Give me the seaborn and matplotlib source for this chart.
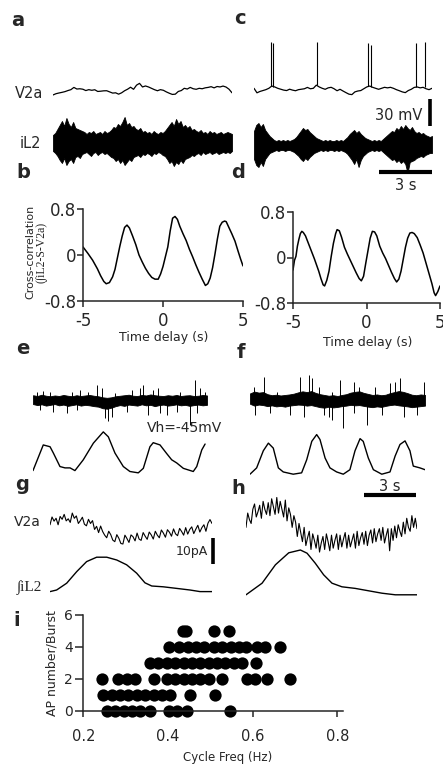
"""
Multi-panel figure: V2a / iL2 recordings, cross-correlations, currents, AP count.
"""
import numpy as np
import matplotlib
matplotlib.use('Agg')
import matplotlib.pyplot as plt
import seaborn as sns

sns.set_style('ticks')
plt.rcParams['font.family'] = ['DejaVu Sans']
plt.rcParams['axes.unicode_minus'] = False

INK = 'black'
SERIF = ['Liberation Serif', 'DejaVu Serif']

# ---------------- data ----------------
# a: V2a membrane potential (mV), 10 s
a_v2a = [-69.4, -68.0, -67.2, -66.5, -65.7, -64.5, -63.5, -61.0, -62.8, -62.5,
         -63.0, -64.5, -63.5, -64.2, -63.6, -65.5, -65.2, -64.8, -64.7, -66.0,
         -67.3, -67.0, -68.5, -67.0, -64.7, -63.0, -60.8, -63.1, -58.5, -56.5,
         -60.5, -59.4, -60.5, -62.0, -63.5, -64.7, -63.5, -64.2, -66.0, -67.5,
         -68.8, -68.5, -65.5, -64.5, -62.0, -62.8, -61.0, -62.5, -63.1, -62.0,
         -62.5, -61.5, -61.0, -60.2, -61.5, -60.0, -60.5, -59.5, -60.6, -63.0,
         -67.0]
# c: V2a membrane potential (mV) with spikes
c_v2a = [-62.0, -67.0, -65.5, -64.5, -63.5, -62.0, -59.5, -60.5, -62.0, -63.0,
         -64.0, -64.5, -63.0, -64.0, -64.7, -63.5, -63.0, -62.5, -61.0, -62.5,
         -62.0, -58.5, -60.5, -62.0, -63.1, -61.5, -60.9, -62.5, -64.7, -63.1,
         -65.0, -66.8, -68.5, -69.0, -66.0, -65.0, -64.5, -62.5, -60.5, -59.5,
         -60.9, -62.0, -63.1, -62.0, -60.9, -61.5, -60.9, -62.0, -63.5, -64.7,
         -66.0, -66.8, -64.5, -63.1, -61.0, -60.5, -61.5, -60.9, -62.5, -63.5,
         -62.0]
c_spike_t = [0.96, 1.07, 3.54, 6.40, 6.57, 9.10, 9.60]
c_spike_base = [-59.8, -60.2, -58.5, -59.5, -60.0, -60.8, -60.9]
c_spike_peak = [-10.2, -12.0, -10.2, -12.0, -13.9, -12.0, -10.2]

# a / c: iL2 ventral root envelope (uV), 10 s
a_il2_up = [8, 10, 14, 18, 22, 17, 25, 19, 16, 21, 15, 14, 13, 12, 11, 9, 11, 10,
            12, 9, 10, 11, 9, 12, 10, 11, 13, 16, 15, 19, 17, 21, 26, 18, 20, 16,
            17, 14, 13, 15, 11, 12, 10, 11, 9, 12, 10, 9, 11, 10, 12, 15, 18, 21,
            17, 24, 19, 22, 16, 18, 15, 17, 13, 14, 12, 11, 13, 10, 11, 9, 12, 10,
            11, 9, 10, 11, 9, 10, 11, 10, 9]
a_il2_lo = [-8, -10, -13, -17, -20, -15, -22, -18, -16, -20, -14, -13, -15, -11,
            -10, -9, -11, -13, -10, -9, -12, -10, -9, -11, -10, -12, -14, -15,
            -18, -16, -20, -17, -22, -19, -16, -18, -14, -13, -12, -14, -11, -12,
            -10, -11, -13, -10, -11, -9, -10, -12, -13, -16, -20, -18, -23, -19,
            -21, -17, -20, -16, -15, -14, -12, -13, -11, -10, -12, -9, -11, -10,
            -9, -11, -10, -9, -11, -10, -9, -10, -9, -10, -8]
c_il2_up = [14, 20, 22, 18, 21, 15, 12, 9, 7, 5, 4, 5, 4, 5, 4, 5, 4, 5, 6, 8,
            11, 14, 17, 15, 16, 13, 11, 9, 7, 6, 5, 4, 5, 4, 5, 4, 4, 5, 4, 5, 4,
            6, 8, 11, 13, 15, 12, 14, 11, 9, 7, 6, 5, 4, 5, 4, 5, 4, 6, 8, 10, 12,
            14, 13, 17, 15, 19, 16, 20, 17, 15, 18, 14, 12, 13, 11, 12, 10, 9, 8, 9]
c_il2_lo = [-14, -20, -22, -17, -21, -14, -11, -8, -7, -6, -5, -6, -5, -5, -6,
            -5, -5, -6, -7, -9, -11, -14, -16, -13, -15, -12, -10, -8, -7, -6,
            -5, -6, -5, -6, -5, -5, -6, -5, -6, -5, -6, -7, -9, -12, -15, -19,
            -14, -22, -15, -11, -9, -7, -6, -5, -6, -5, -6, -5, -7, -9, -11, -13,
            -15, -14, -17, -15, -18, -16, -19, -28, -17, -16, -15, -13, -12, -11,
            -12, -10, -9, -8, -8]

# b / d: cross-correlation vs time delay (s)
b_lag = [-5.0, -4.7, -4.4, -4.1, -3.9, -3.7, -3.55, -3.35, -3.15, -3.0, -2.85,
         -2.7, -2.55, -2.4, -2.25, -2.1, -1.9, -1.7, -1.5, -1.3, -1.1, -0.9,
         -0.7, -0.5, -0.3, -0.15, 0.0, 0.15, 0.3, 0.45, 0.6, 0.75, 0.9, 1.05,
         1.25, 1.45, 1.65, 1.85, 2.05, 2.25, 2.45, 2.65, 2.8, 2.95, 3.1, 3.25,
         3.4, 3.55, 3.7, 3.85, 3.95, 4.1, 4.3, 4.5, 4.7, 4.85, 5.0]
b_corr = [0.14, 0.03, -0.09, -0.24, -0.36, -0.46, -0.50, -0.48, -0.38, -0.25,
          -0.05, 0.15, 0.33, 0.48, 0.52, 0.47, 0.33, 0.18, 0.00, -0.12, -0.23,
          -0.32, -0.39, -0.42, -0.42, -0.33, -0.20, -0.03, 0.14, 0.42, 0.64,
          0.67, 0.62, 0.50, 0.37, 0.25, 0.10, -0.03, -0.17, -0.30, -0.42, -0.53,
          -0.50, -0.40, -0.22, 0.02, 0.28, 0.50, 0.57, 0.59, 0.58, 0.49, 0.37,
          0.24, 0.06, -0.07, -0.19]
d_lag = [-5.0, -4.9, -4.8, -4.7, -4.6, -4.5, -4.4, -4.3, -4.15, -4.0, -3.85,
         -3.7, -3.55, -3.4, -3.25, -3.1, -2.95, -2.85, -2.7, -2.55, -2.4, -2.25,
         -2.1, -2.0, -1.85, -1.7, -1.5, -1.3, -1.1, -0.9, -0.7, -0.5, -0.35,
         -0.2, -0.05, 0.1, 0.25, 0.4, 0.55, 0.7, 0.9, 1.1, 1.3, 1.5, 1.7, 1.9,
         2.05, 2.2, 2.35, 2.5, 2.65, 2.8, 2.95, 3.1, 3.25, 3.45, 3.65, 3.85,
         4.05, 4.25, 4.45, 4.6, 4.7, 4.85, 5.0]
d_corr = [-0.22, -0.05, 0.02, 0.20, 0.32, 0.42, 0.46, 0.44, 0.38, 0.28, 0.18,
          0.08, -0.02, -0.13, -0.24, -0.37, -0.48, -0.50, -0.40, -0.24, 0.02,
          0.25, 0.42, 0.49, 0.47, 0.36, 0.18, 0.06, -0.05, -0.16, -0.27, -0.37,
          -0.41, -0.33, -0.10, 0.12, 0.34, 0.46, 0.45, 0.38, 0.20, 0.08, -0.02,
          -0.14, -0.26, -0.37, -0.43, -0.38, -0.24, -0.03, 0.18, 0.34, 0.43,
          0.44, 0.42, 0.35, 0.22, 0.08, -0.10, -0.28, -0.46, -0.62, -0.67,
          -0.60, -0.50]

# e / f: V2a current (pA) noise band + synaptic events, 10 s
e_band_up = [1.8, 1.5, 2.0, 1.6, 1.4, 1.7, 1.5, 1.9, 1.6, 1.4, 1.8, 1.5, 1.7,
             1.9, 1.6, 1.4, 1.0, 0.8, 1.0, 1.4, 1.6, 1.8, 2.0, 1.6, 1.5, 1.9,
             1.7, 2.1, 1.8, 1.6, 1.5, 1.8, 1.6, 1.9, 1.5, 1.7, 1.8, 1.5, 1.6,
             1.9, 1.7]
e_band_lo = [-1.6, -2.0, -1.7, -2.2, -1.9, -1.6, -2.1, -1.8, -2.3, -2.0, -1.7,
             -2.2, -1.9, -2.1, -2.4, -2.6, -3.2, -3.4, -3.0, -2.4, -2.0, -2.3,
             -1.8, -2.0, -2.2, -1.7, -2.1, -1.9, -2.4, -2.0, -1.8, -2.2, -2.0,
             -1.7, -2.1, -1.9, -2.3, -2.0, -1.8, -2.1, -1.9]
e_event_t = [0.21, 0.6, 0.98, 2.22, 2.7, 3.18, 3.66, 3.95, 4.71, 5.67, 6.15,
             6.34, 6.91, 7.2, 8.45, 9.31, 9.6, 9.89, 0.4, 1.17, 1.94, 2.51,
             4.14, 4.33, 4.52, 5.39, 6.63, 7.3, 7.68, 8.26, 9.02, 9.4]
e_event_amp = [3.0, 3.5, 3.0, 3.2, 3.8, 3.2, 5.8, 4.5, 2.8, 3.8, 4.5, 5.8, 3.8,
               4.5, 3.2, 7.7, 4.5, 3.0, -3.8, -4.5, -5.1, -3.8, -7.0, -8.3,
               -6.4, -4.5, -5.8, -5.1, -5.8, -4.5, -9.6, -5.1]
f_band_up = [2.5, 3.2, 2.8, 3.0, 2.2, 1.8, 2.0, 1.7, 1.9, 2.1, 2.4, 2.9, 3.3,
             3.0, 3.4, 2.7, 2.2, 1.9, 1.6, 1.8, 1.5, 1.9, 2.2, 2.8, 3.1, 3.3,
             2.7, 2.3, 1.9, 2.1, 1.8, 2.0, 2.6, 3.0, 3.4, 3.1, 2.6, 2.0, 1.8,
             2.1, 1.9]
f_band_lo = [-1.5, -2.2, -1.8, -2.0, -2.4, -2.1, -2.5, -2.3, -2.6, -2.2, -2.0,
             -1.8, -1.9, -2.2, -2.0, -2.4, -2.8, -3.0, -2.6, -2.9, -2.7, -2.4,
             -2.2, -1.9, -2.1, -2.0, -2.3, -2.6, -2.8, -2.5, -2.7, -2.3, -2.0,
             -1.8, -2.1, -2.3, -2.5, -2.8, -2.6, -2.4, -2.2]
f_event_t = [0.21, 0.78, 1.54, 2.87, 3.39, 3.54, 3.92, 4.69, 5.16, 5.93, 6.21,
             7.16, 8.02, 8.3, 8.59, 9.93, 0.3, 1.16, 2.3, 3.07, 4.21, 4.5, 4.69,
             5.3, 5.93, 6.69, 7.54, 8.78, 9.54]
f_event_amp = [5.1, 9.0, 3.0, 9.0, 9.6, 8.3, 5.1, 3.2, 7.7, 7.0, 5.1, 5.1, 6.4,
               7.0, 8.3, 7.0, -5.8, -5.1, -5.8, -6.4, -5.8, -6.4, -7.7, -10.9,
               -5.1, -9.6, -5.8, -6.4, -5.8]

# e / f: integrated iL2 (a.u.)
e_int_t = [0.0, 0.59, 0.98, 1.17, 1.55, 1.84, 2.13, 2.41, 2.89, 3.47, 4.04,
           4.33, 4.71, 5.19, 5.57, 6.05, 6.34, 6.72, 6.91, 7.3, 7.68, 7.97,
           8.26, 8.64, 9.21, 9.41, 9.7, 9.89]
e_int = [0.12, 0.69, 0.65, 0.51, 0.21, 0.18, 0.18, 0.12, 0.36, 0.73, 0.98,
         0.87, 0.51, 0.21, 0.10, 0.07, 0.17, 0.65, 0.74, 0.69, 0.50, 0.36,
         0.29, 0.17, 0.10, 0.21, 0.58, 0.71]
f_int_t = [0.0, 0.38, 0.76, 1.05, 1.33, 1.62, 1.9, 2.47, 2.95, 3.24, 3.53,
           3.81, 4.0, 4.29, 4.57, 4.95, 5.33, 5.71, 6.0, 6.29, 6.47, 6.76,
           7.05, 7.53, 8.0, 8.29, 8.57, 8.86, 9.14, 9.33, 9.71, 10.0]
f_int = [0.04, 0.18, 0.56, 0.73, 0.62, 0.18, 0.09, 0.04, 0.07, 0.36, 0.77,
         0.92, 0.81, 0.40, 0.18, 0.09, 0.04, 0.14, 0.56, 0.83, 0.77, 0.40,
         0.14, 0.04, 0.09, 0.44, 0.70, 0.78, 0.56, 0.22, 0.18, 0.14]

# g / h: cycle-averaged V2a current (pA) and integrated iL2 (a.u.) vs phase
g_v2a = [2.0, 5.0, 3.4, 4.5, 2.0, 5.2, 4.1, 6.0, 3.5, 4.3,
         2.9, 6.5, 4.5, 5.4, 2.5, 3.6, 4.9, 2.2, 1.6, 4.1,
         2.5, 3.6, 0.2, 1.4, -1.0, 1.5, -0.6, -2.0, -3.0, -0.5,
         -1.8, -3.9, -4.5, -1.8, -3.2, -5.2, -5.4, -2.0, -3.3, -4.8,
         -1.9, -2.6, -4.2, -1.2, -3.5, -4.0, -1.0, -2.4, -3.6, -0.8,
         -1.9, -3.5, -0.5, -2.0, -3.0, 0.0, -1.2, -2.8, 0.1, -0.9,
         -2.4, 0.4, -1.5, -2.2, 0.6, -0.6, -2.0, 0.9, -1.6, 0.2,
         1.2, -1.4, 0.3, 1.8, -0.8, 0.9, 2.0, -0.5, 2.6, 4.0,
         2.5]
h_v2a = [1.0, 6.5, 4.0, 2.5, 8.0, 10.0, 5.0, 7.0, 9.5, 4.5,
         11.0, 8.0, 6.0, 10.5, 5.5, 12.0, 9.0, 6.0, 12.5, 6.5,
         11.0, 8.0, 5.0, 11.5, 3.5, 8.5, 6.0, 1.0, 5.5, 3.0,
         -2.5, 2.5, -1.0, -4.5, 1.0, -6.0, -3.0, -0.5, -7.5, -1.5,
         -4.0, -7.0, -2.0, -8.5, -5.0, -2.5, -7.5, -1.5, -4.5, -8.0,
         -2.0, -7.0, -4.0, -1.5, -7.5, -2.0, -6.5, -3.5, -1.0, -7.0,
         -2.0, -6.5, -4.0, -1.5, -7.0, -0.5, -6.0, -3.0, -1.0, -5.5,
         -0.5, -6.0, -2.0, 0.0, -5.0, 0.5, -4.5, -1.5, 0.5, -4.0,
         1.0, -5.0, -2.0, 0.5, -8.0, 0.5, -4.0, 1.5, -3.0, 2.0,
         -0.5, -2.5, 3.0, -1.5, 4.5, 1.0, -0.5, 5.5, 1.0, 4.5,
         0.5]
g_int_phase = [0.0, 0.041, 0.103, 0.165, 0.226, 0.288, 0.35, 0.412, 0.473,
               0.535, 0.586, 0.628, 0.699, 0.782, 0.864, 0.926, 1.0]
g_int = [0.11, 0.15, 0.32, 0.61, 0.86, 0.97, 0.97, 0.90, 0.78, 0.57, 0.33,
         0.25, 0.23, 0.19, 0.15, 0.11, 0.11]
h_int_phase = [0.0, 0.094, 0.172, 0.25, 0.318, 0.357, 0.405, 0.454, 0.503,
               0.561, 0.639, 0.717, 0.795, 0.873, 1.0]
h_int = [0.03, 0.32, 0.78, 1.08, 1.15, 1.07, 0.82, 0.53, 0.32, 0.23, 0.19,
         0.13, 0.07, 0.03, 0.03]

# i: AP number per burst vs cycle frequency
cycle_freq = [0.435, 0.443, 0.508, 0.545,
              0.402, 0.426, 0.446, 0.465, 0.485, 0.508, 0.528, 0.548, 0.567,
              0.583, 0.61, 0.63, 0.664,
              0.358, 0.377, 0.397, 0.417, 0.437, 0.457, 0.476, 0.496, 0.515,
              0.535, 0.555, 0.575, 0.607,
              0.243, 0.283, 0.302, 0.322, 0.366, 0.397, 0.417, 0.437, 0.457,
              0.476, 0.496, 0.527, 0.586, 0.606, 0.634, 0.687,
              0.247, 0.267, 0.287, 0.306, 0.326, 0.346, 0.366, 0.385, 0.405,
              0.452, 0.511,
              0.255, 0.275, 0.295, 0.314, 0.334, 0.358, 0.402, 0.421, 0.445,
              0.547]
ap_number = [5] * 4 + [4] * 13 + [3] * 13 + [2] * 16 + [1] * 11 + [0] * 10

# ---------------- layout helpers (pixel boxes) ----------------
W, H = 443, 767
fig = plt.figure(figsize=(W / 100, H / 100), dpi=100)


def box(x0, y0, x1, y1):
    return [x0 / W, 1 - y1 / H, (x1 - x0) / W, (y1 - y0) / H]


def text(x, y, s, **kw):
    kw.setdefault('ha', 'center')
    kw.setdefault('va', 'center')
    fig.text(x / W, 1 - y / H, s, **kw)


def trace_ax(x0, y0, x1, y1, xlim, ylim):
    ax = fig.add_axes(box(x0, y0, x1, y1))
    ax.set_xlim(*xlim)
    ax.set_ylim(*ylim)
    ax.axis('off')
    return ax


def line(ax, x, y, lw=0.9):
    sns.lineplot(x=np.asarray(x), y=np.asarray(y), ax=ax, color=INK,
                 linewidth=lw, estimator=None, sort=False, legend=False)


def t_axis(values, dur=10.0):
    return np.linspace(0, dur, len(values))


# ---------------- a / c ----------------
for x0, x1, v2a in [(53, 232, a_v2a), (254, 432, c_v2a)]:
    ax = trace_ax(x0, 35, x1, 130, (0, 10), (-108.3, -2.8))
    line(ax, t_axis(v2a), v2a, lw=0.9)
    if v2a is c_v2a:
        ax.vlines(c_spike_t, c_spike_base, c_spike_peak, color=INK, lw=0.8)
        ax.vlines(9.89, -103.9, -73.9, color=INK, lw=2.6, clip_on=False)
        ax.text(9.44, -92.2, '30 mV', ha='right', va='center', fontsize=10.5)

ax = trace_ax(53, 110, 232, 175, (0, 10), (-32, 33))
ax.fill_between(t_axis(a_il2_up), a_il2_lo, a_il2_up, color=INK, lw=0.6)
ax = trace_ax(254, 110, 432, 180, (0, 10), (-35, 35))
ax.fill_between(t_axis(c_il2_up), c_il2_lo, c_il2_up, color=INK, lw=0.6)
ax.hlines(-27, 7.0, 10.0, color=INK, lw=3.0, clip_on=False)
ax.text(8.5, -40, '3 s', ha='center', va='center', fontsize=10.5)

text(29, 94, 'V2a', fontsize=10.5)
text(30, 144, 'iL2', fontsize=10.5)

# ---------------- b / d ----------------
for (x0, y0, x1, y1), lag, corr, xlab_y in [((83, 209, 243, 301), b_lag, b_corr, 338),
                                           ((293, 212, 440, 303), d_lag, d_corr, 342)]:
    ax = fig.add_axes(box(x0, y0, x1, y1))
    line(ax, lag, corr, lw=1.1)
    ax.set_xlim(-5, 5)
    ax.set_ylim(-0.8, 0.8)
    ax.set_xticks([-5, 0, 5])
    ax.set_yticks([-0.8, 0, 0.8])
    ax.set_yticklabels(['-0.8', '0', '0.8'])
    ax.set_xlabel('')
    ax.set_ylabel('')
    sns.despine(ax=ax)
    for sp in ax.spines.values():
        sp.set_linewidth(1.1)
    ax.tick_params(axis='both', labelsize=12, length=4, width=1.1)
    ax.tick_params(axis='x', pad=4)
    ax.tick_params(axis='y', pad=1)
    text((x0 + x1) / 2 + 1, xlab_y, 'Time delay (s)', fontsize=9)

text(30, 252, 'Cross-correlation', fontsize=8, rotation=90)
text(41, 252, '(\u222biL2-S-V2a)', fontsize=8.5, rotation=90, family=SERIF)

# ---------------- e / f ----------------
for x0, x1, up, lo, ev_t, ev_a, it, iv in [
        (33, 207, e_band_up, e_band_lo, e_event_t, e_event_amp, e_int_t, e_int),
        (250, 425, f_band_up, f_band_lo, f_event_t, f_event_amp, f_int_t, f_int)]:
    ax = trace_ax(x0, 370, x1, 435, (0, 10), (-13.5, 11.5))
    ax.fill_between(t_axis(up), lo, up, color=INK, lw=0.6)
    ax.vlines(ev_t, 0, ev_a, color=INK, lw=0.7)
    if x0 == 33:
        ax.text(10.86, -10.8, 'Vh=-45mV', ha='right', va='center', fontsize=10)
    ax = trace_ax(x0, 425, x1, 480, (0, 10), (-0.089, 1.133))
    line(ax, it, iv, lw=1.0)
    if x0 == 250:
        ax.hlines(-0.42, 6.5, 9.5, color=INK, lw=3.0, clip_on=False)
        ax.text(8.0, -0.24, '3 s', ha='center', va='center', fontsize=10.5)

# ---------------- g / h ----------------
for x0, x1, v2a, ph, iv in [(50, 212, g_v2a, g_int_phase, g_int),
                            (246, 417, h_v2a, h_int_phase, h_int)]:
    ax = trace_ax(x0, 485, x1, 570, (0, 1), (-15.4, 17.3))
    line(ax, t_axis(v2a, 1.0), v2a, lw=0.8)
    if x0 == 50:
        ax.vlines(1.006, -13.1, -3.1, color=INK, lw=2.6, clip_on=False)
        ax.text(0.975, -8.1, '10pA', ha='right', va='center', fontsize=9)
    ax = trace_ax(x0, 540, x1, 600, (0, 1), (-0.1, 1.4))
    line(ax, ph, iv, lw=1.0)

text(27, 522, 'V2a', fontsize=10)
text(29, 588, '\u222biL2', fontsize=11, family=SERIF)

# ---------------- i ----------------
ax = fig.add_axes(box(83.3, 615, 343, 710.7))
sns.scatterplot(x=cycle_freq, y=ap_number, ax=ax, color=INK, s=78,
                linewidth=0, clip_on=False, legend=False)
ax.set_xlim(0.2, 0.813)
ax.set_ylim(0, 6)
ax.set_xticks([0.2, 0.4, 0.6, 0.8])
ax.set_yticks([0, 2, 4, 6])
ax.set_xlabel('')
ax.set_ylabel('')
sns.despine(ax=ax)
for sp in ax.spines.values():
    sp.set_linewidth(1.1)
ax.tick_params(axis='x', labelsize=10.5, length=4.5, width=1.1, pad=9)
ax.tick_params(axis='y', labelsize=10, length=5.5, width=1.1, pad=2)
text(52, 663, 'AP number/Burst', fontsize=9, rotation=90)
text(228, 757, 'Cycle Freq (Hz)', fontsize=8.5)

# ---------------- panel letters ----------------
for lx, ly, s in [(18, 21, 'a'), (240, 18, 'c'), (23, 172, 'b'), (238, 172, 'd'),
                  (23, 348, 'e'), (241, 352, 'f'), (22, 485, 'g'), (238, 488, 'h'),
                  (17, 620, 'i')]:
    text(lx, ly, s, fontsize=14, fontweight='bold')

fig.savefig('out.png', dpi=100, facecolor='white')
